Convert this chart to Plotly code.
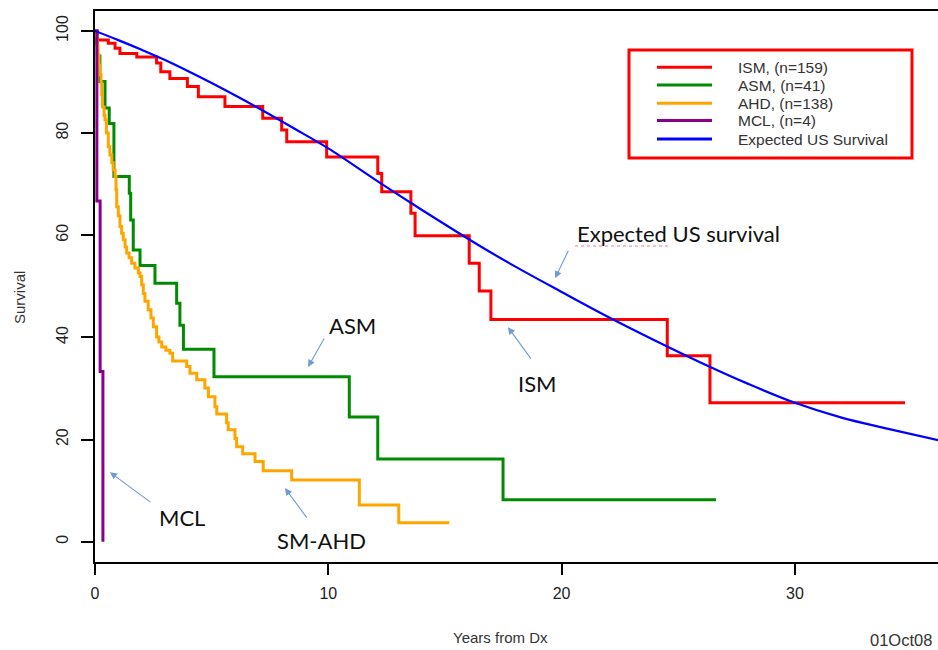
import plotly.graph_objects as go

# ---------------- data ----------------
ism_t = [0, 0.10, 0.57, 0.86, 1.07, 1.79, 2.64, 2.82, 3.21, 3.96, 4.43, 5.57, 7.19, 8.00, 8.22,
         9.93, 12.12, 12.29, 13.54, 13.72, 16.04, 16.47, 16.97, 24.53, 26.36, 34.72]
ism_s = [100, 98.2, 97.6, 96.6, 95.6, 94.9, 93.7, 92.0, 90.7, 89.1, 87.1, 85.2, 82.9, 80.6, 78.3,
         75.3, 72.1, 68.5, 64.3, 59.9, 54.5, 49.1, 43.5, 36.4, 27.2, 27.2]

asm_t = [0, 0.05, 0.10, 0.21, 0.43, 0.61, 0.81, 1.47, 1.53, 1.64, 1.93, 2.57, 3.50, 3.64, 3.79,
         5.10, 10.90, 12.12, 17.49, 26.62]
asm_s = [100, 97.6, 95.1, 90.1, 84.9, 81.9, 71.5, 68.2, 63.0, 57.1, 54.1, 50.6, 46.7, 42.4, 37.7,
         32.3, 24.4, 16.2, 8.2, 8.2]

ahd_t = [0, 0.04, 0.09, 0.13, 0.17, 0.21, 0.26, 0.29, 0.32, 0.39, 0.43, 0.49, 0.57, 0.64, 0.72,
         0.78, 0.86, 0.90, 0.93, 1.00, 1.07, 1.14, 1.21, 1.29, 1.36, 1.46, 1.57, 1.71, 1.86, 1.93,
         2.00, 2.07, 2.14, 2.28, 2.40, 2.50, 2.64, 2.74, 2.86, 3.04, 3.21, 3.33, 3.93, 4.07, 4.36,
         4.71, 4.86, 5.14, 5.22, 5.64, 5.71, 6.00, 6.07, 6.33, 6.86, 7.21, 8.43, 11.33, 13.02, 15.19]
ahd_s = [100, 99.0, 97.3, 95.3, 93.3, 91.4, 89.8, 87.5, 85.1, 83.5, 82.6, 80.0, 77.3, 75.7, 74.2,
         72.8, 71.5, 68.9, 65.6, 63.8, 61.7, 60.4, 59.1, 57.7, 56.5, 55.6, 54.5, 53.6, 52.6, 51.9,
         50.3, 48.6, 47.1, 45.4, 43.8, 42.1, 40.1, 39.1, 38.1, 37.5, 36.9, 35.4, 34.3, 33.0, 31.7,
         30.1, 28.4, 26.4, 25.0, 23.3, 21.9, 20.2, 18.6, 17.2, 15.7, 13.9, 12.1, 7.2, 3.7, 3.7]

mcl_t = [0, 0.08, 0.22, 0.34]
mcl_s = [100, 66.7, 33.3, 0]

exp_t = [0, 1, 2, 3, 4, 5, 6, 7, 8.5, 10, 12.2, 14, 16.5, 18, 20, 22, 24, 26, 28, 30, 32, 34, 36.2]
exp_s = [100, 98.2, 96.3, 94.3, 92.1, 89.8, 87.4, 84.9, 81.0, 77.0, 70.3, 65.0, 57.9, 53.9, 48.9,
         44.0, 39.4, 35.0, 30.9, 27.2, 24.3, 22.1, 19.8]

legend_labels = ["ISM, (n=159)", "ASM, (n=41)", "AHD, (n=138)", "MCL, (n=4)", "Expected US Survival"]
legend_colors = ["#ff0000", "#008b00", "#ffa500", "#8b008b", "#0000ff"]

x_ticks = [0, 10, 20, 30]
y_ticks = [0, 20, 40, 60, 80, 100]

# ---------------- figure ----------------
W, H = 938, 650
L, T, R, B = 95, 11, 0, 88
pw, ph = W - L - R, H - T - B

def px(x):  # pixel x -> paper
    return (x - L) / pw

def py(y):  # pixel y -> paper
    return (H - B - y) / ph

fig = go.Figure()
series = [(ism_t, ism_s, 0), (asm_t, asm_s, 1), (ahd_t, ahd_s, 2), (mcl_t, mcl_s, 3)]
for t, s, i in series:
    fig.add_trace(go.Scatter(x=t, y=s, mode="lines", line=dict(color=legend_colors[i], width=3, shape="hv"),
                             name=legend_labels[i], showlegend=False, hoverinfo="skip"))
fig.add_trace(go.Scatter(x=exp_t, y=exp_s, mode="lines",
                         line=dict(color=legend_colors[4], width=2.2, shape="spline", smoothing=1.0),
                         name=legend_labels[4], showlegend=False, hoverinfo="skip"))

shapes = []
annotations = []
label_font = "Liberation Sans, Arial"

# legend box
shapes.append(dict(type="rect", xref="paper", yref="paper", x0=px(629), x1=px(912), y0=py(158), y1=py(50),
                   line=dict(color="#ff0000", width=3), fillcolor="white", layer="above"))
legend_rows = [67.3, 85, 103.3, 120.5, 139]
for i, (lab, col) in enumerate(zip(legend_labels, legend_colors)):
    yy = legend_rows[i]
    shapes.append(dict(type="line", xref="paper", yref="paper", x0=px(657), x1=px(712), y0=py(yy), y1=py(yy),
                       line=dict(color=col, width=3), layer="above"))
    annotations.append(dict(xref="paper", yref="paper", x=px(736), y=py(yy), text=lab, showarrow=False,
                            xanchor="left", yanchor="middle",
                            font=dict(family=label_font, size=15.5, color="#333333")))

# callout labels with arrows
arrow_col = "#6f9bd1"
callouts = [
    # text, text x, text y, tip x, tip y, ax, ay
    ("Expected US survival", 25.0, 60.4, 19.72, 51.6, 14, -29),
    ("ASM", 11.02, 42.4, 9.13, 34.2, 17, -30),
    ("ISM", 18.95, 31.0, 17.70, 42.0, 24, 33),
    ("MCL", 3.73, 4.8, 0.64, 13.6, 42, 31),
    ("SM-AHD", 9.69, 0.3, 8.14, 10.5, 23, 31),
]
for text, tx, ty, ax_, ay_, dx, dy in callouts:
    annotations.append(dict(x=tx, y=ty, xref="x", yref="y", text=text, showarrow=False,
                            xanchor="center", yanchor="middle",
                            font=dict(family="Lato, Open Sans", size=22, color="#111111")))
    annotations.append(dict(x=ax_, y=ay_, xref="x", yref="y", text="", showarrow=True, ax=dx, ay=dy,
                            arrowhead=2, arrowsize=1.3, arrowwidth=1.1, arrowcolor=arrow_col))

# red spell-check squiggle under "Expected"
shapes.append(dict(type="line", xref="paper", yref="paper", x0=px(575), x1=px(668), y0=py(246), y1=py(246),
                   line=dict(color="#f08080", width=1, dash="dot")))

# axis titles and date stamp
annotations.append(dict(xref="paper", yref="paper", x=px(20), y=py(298), text="Survival", textangle=-90,
                        xanchor="center", yanchor="middle",
                        showarrow=False, font=dict(family=label_font, size=15, color="#333333")))
annotations.append(dict(xref="paper", yref="paper", x=px(500), y=py(637), text="Years from Dx",
                        xanchor="center", yanchor="middle",
                        showarrow=False, font=dict(family=label_font, size=15, color="#333333")))
annotations.append(dict(xref="paper", yref="paper", x=px(901), y=py(640), text="01Oct08",
                        xanchor="center", yanchor="middle",
                        showarrow=False, font=dict(family=label_font, size=16.5, color="#333333")))

fig.update_layout(
    width=W, height=H,
    margin=dict(l=L, r=R, t=T, b=B, pad=0),
    paper_bgcolor="white", plot_bgcolor="white",
    shapes=shapes, annotations=annotations,
    showlegend=False,
    xaxis=dict(range=[0, pw / 23.33], tickvals=x_ticks, ticktext=[str(v) for v in x_ticks],
               showgrid=False, zeroline=False, showline=True, linecolor="black", linewidth=2, mirror=True,
               ticks="outside", ticklen=11, tickwidth=2, tickcolor="black",
               tickfont=dict(family=label_font, size=16, color="#222222"),
               ticklabelstandoff=5),
    yaxis=dict(range=[-3.97, 103.9], tickvals=y_ticks, ticktext=[str(v) for v in y_ticks],
               showgrid=False, zeroline=False, showline=True, linecolor="black", linewidth=2, mirror=False,
               ticks="outside", ticklen=12, tickwidth=2, tickcolor="black", tickangle=-90,
               tickfont=dict(family=label_font, size=16, color="#222222"),
               ticklabelstandoff=7),
)

fig.write_html("out.html")
